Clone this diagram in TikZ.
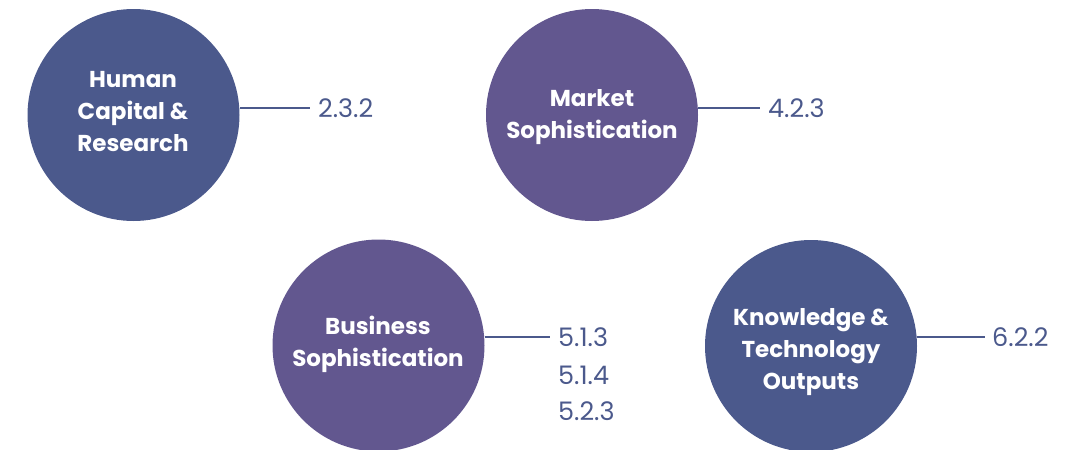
\documentclass[tikz,border=0pt]{standalone}
\usepackage{fontspec}
\setmainfont{Poppins}
\definecolor{cblue}{HTML}{4B598C}
\definecolor{cpurple}{HTML}{62578F}
\definecolor{ctext}{HTML}{4B598C}
\begin{document}
\begin{tikzpicture}[x=1pt,y=-1pt,
  bubble/.style={circle,inner sep=0pt,minimum size=212pt},
  btext/.style={inner sep=0pt,text=white,align=center,
    font=\fontsize{23}{32}\selectfont\bfseries},
  link/.style={draw=ctext,line width=2pt},
  code/.style={anchor=west,inner sep=0pt,text=ctext,font=\fontsize{25.5}{30}\selectfont}]
\useasboundingbox (0,0) rectangle (1069,450);
\node[bubble,fill=cblue] (hc) at (133.5,115) {};
\node[bubble,fill=cpurple] (ms) at (592,115) {};
\node[bubble,fill=cpurple] (bs) at (378.5,345.5) {};
\node[bubble,fill=cblue] (kt) at (811,346) {};
\node[btext] (hct) at (133,112) {Human\\Capital \&\\Research};
\node[btext] (mst) at (592,117) {Market\\Sophistication};
\node[btext] (bst) at (378,344) {Business\\Sophistication};
\node[btext] (ktt) at (811,352) {Knowledge \&\\Technology\\Outputs};
\coordinate (hce) at (310,108);
\coordinate (mse) at (760,108);
\coordinate (bse) at (550,337);
\coordinate (kte) at (985,337);
\draw[link] (hc.east |- hce) -- (hce);
\draw[link] (ms.east |- mse) -- (mse);
\draw[link] (bs.east |- bse) -- (bse);
\draw[link] (kt.east |- kte) -- (kte);
\node[code] (hcl) at (318,108) {2.3.2};
\node[code] (msl) at (768,108) {4.2.3};
\node[code] (bsl1) at (558,337) {5.1.3};
\node[code] (bsl2) at (558,375) {5.1.4};
\node[code] (bsl3) at (558,411) {5.2.3};
\node[code] (ktl) at (992,337) {6.2.2};
\end{tikzpicture}
\end{document}
